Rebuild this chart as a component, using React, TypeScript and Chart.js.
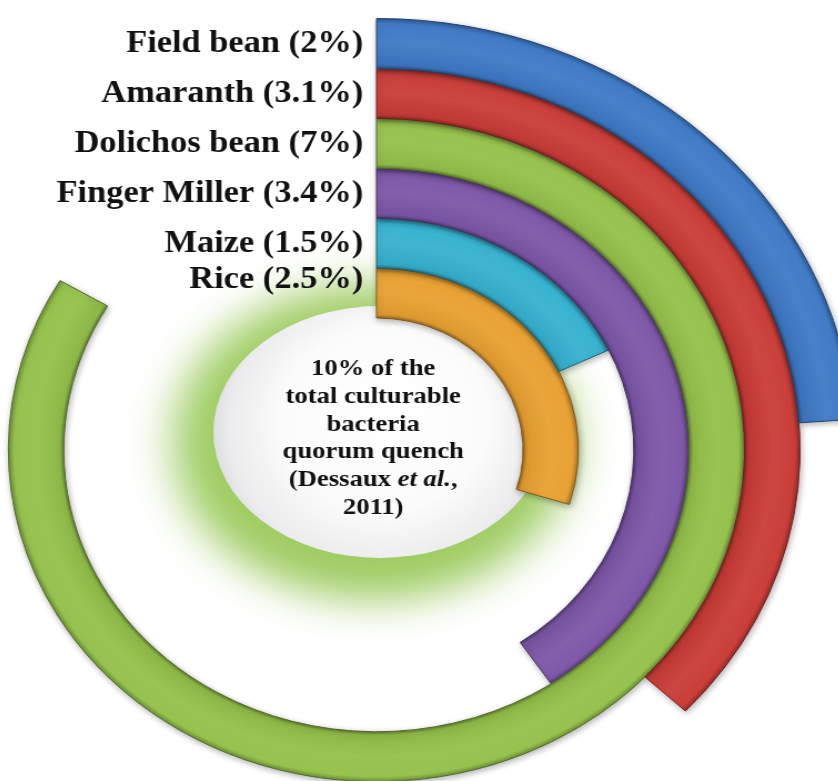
import React, { useEffect, useRef } from 'react';
import { Chart, registerables } from 'chart.js';

Chart.register(...registerables);

// ---- data ----
const categories = ['Field bean', 'Amaranth', 'Dolichos bean', 'Finger Miller', 'Maize', 'Rice'];
const percentages = [2, 3.1, 7, 3.4, 1.5, 2.5];
const percentLabels = ['2%', '3.1%', '7%', '3.4%', '1.5%', '2.5%'];
const fullCircleValue = 8.38; // value that corresponds to a full 360° ring
const ringColors = ['#3D79C6', '#C93B36', '#94C14A', '#7C56A7', '#34B1D0', '#E8A030'];
const centerLines = ['10% of the', 'total culturable', 'bacteria', 'quorum quench', '(Dessaux et al.,', '2011)'];
const italicPhrase = 'et al.';

// ---- helpers ----
function shade(hex: string, amt: number): string {
  const n = parseInt(hex.slice(1), 16);
  let r = (n >> 16) & 255, g = (n >> 8) & 255, b = n & 255;
  const f = (c: number) => {
    const v = amt >= 0 ? c + (255 - c) * amt : c * (1 + amt);
    return Math.max(0, Math.min(255, Math.round(v)));
  };
  r = f(r); g = f(g); b = f(b);
  return `rgb(${r},${g},${b})`;
}

const STRETCH = 1.11;
const SIZE = 864;
const CENTER_PAGE_X = 377;
const CENTER_PAGE_Y = 450;
const SERIF = '"Liberation Serif", "Times New Roman", Times, serif';

function ringFill(color: string) {
  return (ctx: any) => {
    if (ctx.dataIndex !== 0) return 'rgba(0,0,0,0)';
    const chart = ctx.chart;
    const area = chart.chartArea;
    if (!area) return color;
    const ctrl: any = chart.getDatasetMeta(ctx.datasetIndex).controller;
    const cx = (area.left + area.right) / 2;
    const cy = (area.top + area.bottom) / 2;
    const inner = ctrl.innerRadius || 0;
    const outer = ctrl.outerRadius || 1;
    if (!(outer > inner)) return color;
    const g = chart.ctx.createRadialGradient(cx, cy, inner, cx, cy, outer);
    g.addColorStop(0, shade(color, -0.35));
    g.addColorStop(0.07, shade(color, -0.05));
    g.addColorStop(0.5, shade(color, 0.06));
    g.addColorStop(0.9, shade(color, 0.02));
    g.addColorStop(1, shade(color, -0.25));
    return g;
  };
}

const diskPlugin = {
  id: 'centerDisk',
  beforeDatasetsDraw(chart: any) {
    const { ctx, chartArea } = chart;
    const cx = (chartArea.left + chartArea.right) / 2;
    const cy = (chartArea.top + chartArea.bottom) / 2;
    const dx = cx + 3;
    const dy = cy - 18;
    const rx = 150, ry = 126;
    ctx.save();
    ctx.filter = 'blur(20px)';
    ctx.fillStyle = 'rgba(148,198,80,0.9)';
    ctx.beginPath();
    ctx.ellipse(dx - 6, dy + 10, rx + 30, ry + 32, 0, 0, Math.PI * 2);
    ctx.fill();
    ctx.restore();

    ctx.save();
    const g = ctx.createRadialGradient(dx + 10, dy - 30, 10, dx, dy, rx + 10);
    g.addColorStop(0, '#ffffff');
    g.addColorStop(0.55, '#fbfbfb');
    g.addColorStop(0.85, '#ececee');
    g.addColorStop(1, '#d6d6da');
    ctx.fillStyle = g;
    ctx.beginPath();
    ctx.ellipse(dx, dy, rx, ry, 0, 0, Math.PI * 2);
    ctx.fill();
    ctx.restore();
  },
};

const shadowPlugin = {
  id: 'ringShadow',
  beforeDatasetDraw(chart: any) {
    const ctx = chart.ctx;
    ctx.save();
    ctx.shadowColor = 'rgba(0,0,0,0.3)';
    ctx.shadowBlur = 6;
    ctx.shadowOffsetX = 1;
    ctx.shadowOffsetY = 2;
  },
  afterDatasetDraw(chart: any) {
    chart.ctx.restore();
  },
};

const labelPlugin = {
  id: 'ringLabels',
  afterDraw(chart: any) {
    const { ctx, chartArea } = chart;
    const cx = (chartArea.left + chartArea.right) / 2;
    const cy = (chartArea.top + chartArea.bottom) / 2;
    const diskTop = cy - 18 - 126;
    ctx.save();
    ctx.fillStyle = '#111111';
    ctx.textAlign = 'right';
    ctx.textBaseline = 'middle';
    ctx.font = `bold 31px ${SERIF}`;
    categories.forEach((name, i) => {
      const ctrl: any = chart.getDatasetMeta(i).controller;
      const mid = (ctrl.innerRadius + ctrl.outerRadius) / 2;
      const y = Math.min(cy - mid, diskTop - 27);
      ctx.fillText(`${name} (${percentLabels[i]})`, cx - 12, y + 1);
    });

    // center text
    ctx.textAlign = 'left';
    const tx = cx - 3;
    const startY = cy - 81;
    const step = 27.7;
    centerLines.forEach((line, i) => {
      const y = startY + i * step;
      const idx = line.indexOf(italicPhrase);
      const parts: { t: string; f: string }[] = [];
      if (idx >= 0) {
        parts.push({ t: line.slice(0, idx), f: `bold 24px ${SERIF}` });
        parts.push({ t: italicPhrase, f: `italic bold 24px ${SERIF}` });
        parts.push({ t: line.slice(idx + italicPhrase.length), f: `bold 24px ${SERIF}` });
      } else {
        parts.push({ t: line, f: `bold 24px ${SERIF}` });
      }
      let total = 0;
      parts.forEach((p) => {
        ctx.font = p.f;
        total += ctx.measureText(p.t).width;
      });
      let x = tx - total / 2;
      parts.forEach((p) => {
        ctx.font = p.f;
        ctx.fillText(p.t, x, y);
        x += ctx.measureText(p.t).width;
      });
    });
    ctx.restore();
  },
};

export default function App() {
  const ref = useRef<HTMLCanvasElement | null>(null);

  useEffect(() => {
    if (!ref.current) return;
    const datasets = categories.map((name, i) => ({
      label: name,
      data: [percentages[i], fullCircleValue - percentages[i]],
      backgroundColor: ringFill(ringColors[i]),
      borderColor: [shade(ringColors[i], -0.45), 'rgba(0,0,0,0)'],
      borderWidth: [1, 0],
    }));
    const chart = new Chart(ref.current, {
      type: 'doughnut',
      data: { labels: ['value', 'rest'], datasets: datasets as any },
      options: {
        responsive: false,
        animation: false,
        events: [],
        cutout: '30.6%',
        layout: { padding: 0 },
        plugins: {
          legend: { display: false },
          tooltip: { enabled: false },
        },
      },
      plugins: [diskPlugin, shadowPlugin, labelPlugin],
    });
    return () => chart.destroy();
  }, []);

  const left = CENTER_PAGE_X - (SIZE / 2) * STRETCH;
  const top = CENTER_PAGE_Y - SIZE / 2;

  return (
    <div
      style={{
        position: 'absolute',
        left: 0,
        top: 0,
        width: 838,
        height: 781,
        overflow: 'hidden',
        background: '#ffffff',
      }}
    >
      <canvas
        ref={ref}
        width={SIZE}
        height={SIZE}
        style={{
          position: 'absolute',
          left,
          top,
          width: SIZE,
          height: SIZE,
          transform: `scaleX(${STRETCH})`,
          transformOrigin: '0 0',
        }}
      />
    </div>
  );
}
